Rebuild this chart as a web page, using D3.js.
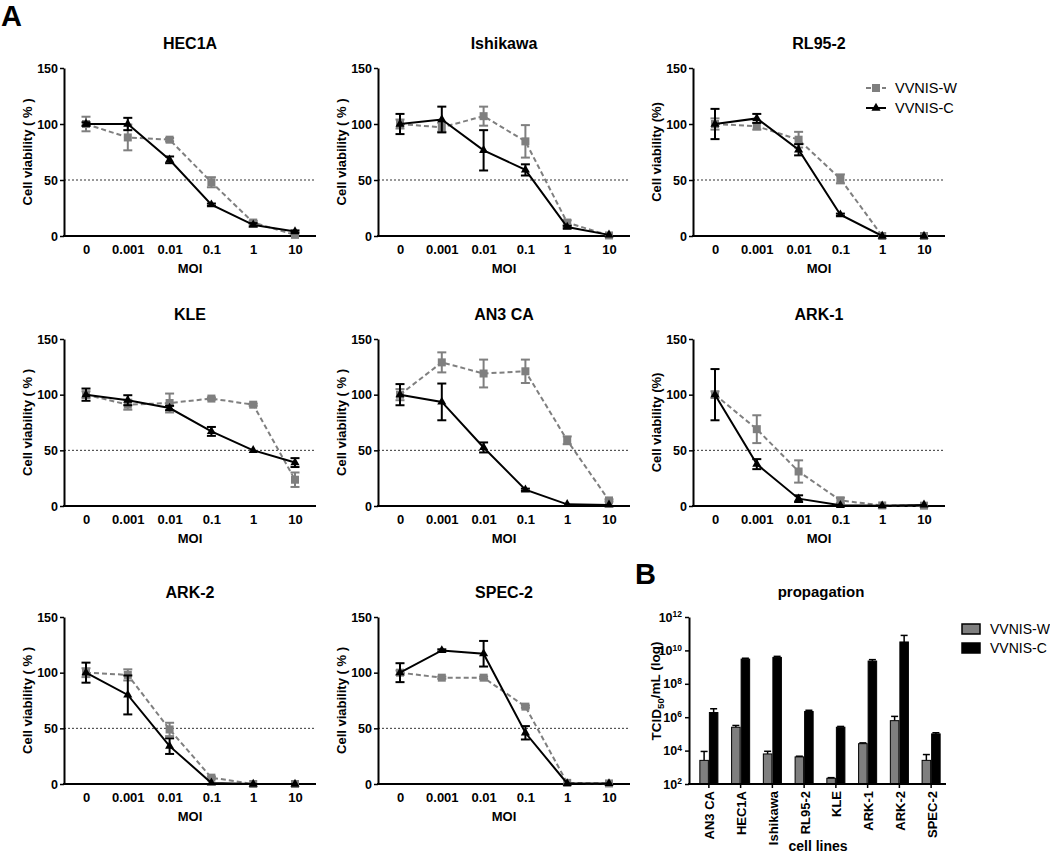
<!DOCTYPE html>
<html><head><meta charset="utf-8">
<script src="https://cdn.jsdelivr.net/npm/d3@7"></script>
<style>
body{margin:0;background:#fff}
svg{display:block}
text{font-family:"Liberation Sans",Arial,Helvetica,sans-serif}
</style>
</head><body>
<svg id="c" width="1050" height="859"></svg>
<script>
// ---------------- DATA ----------------
const moi = ["0", "0.001", "0.01", "0.1", "1", "10"];
const yTicks = [0, 50, 100, 150];
const seriesNames = ["VVNIS-W", "VVNIS-C"];

// Cell viability (%) per cell line: mean and error for each MOI
const HEC1A_W = [100, 88, 86, 48, 12, 1];      const HEC1A_W_ERR = [6.5, 11.5, 1.5, 4.5, 1.5, 0.5];
const HEC1A_C = [100, 100, 68, 28, 10, 4];     const HEC1A_C_ERR = [1.5, 5.5, 3, 1, 1.5, 1];
const ISHIKAWA_W = [100, 97, 107, 84.5, 12, 0.5]; const ISHIKAWA_W_ERR = [4, 4, 8.5, 14.5, 2, 0.5];
const ISHIKAWA_C = [100, 104, 76.5, 59, 8, 1];    const ISHIKAWA_C_ERR = [9, 11.5, 18, 5, 1, 0.5];
const RL952_W = [100, 98, 86, 51, 0, 0];       const RL952_W_ERR = [5, 3, 7, 4, 0, 0];
const RL952_C = [100, 105, 77, 19, 0, 0];      const RL952_C_ERR = [13.5, 4, 5, 1, 0, 0];
const KLE_W = [100, 91, 92.5, 96.5, 91, 23.6]; const KLE_W_ERR = [3, 4.5, 8.5, 1, 1, 6.5];
const KLE_C = [100, 95, 88, 67, 50, 39];       const KLE_C_ERR = [5.5, 4.5, 2, 4, 0.5, 4];
const AN3CA_W = [100, 129, 119, 121, 59, 5];   const AN3CA_W_ERR = [5, 9, 12.5, 10.5, 3.5, 1];
const AN3CA_C = [100, 93.5, 52.6, 14.6, 1.5, 1]; const AN3CA_C_ERR = [9.5, 16.5, 4.5, 1, 0.5, 0.5];
const ARK1_W = [100, 69, 31, 5, 0.5, 0.3];     const ARK1_W_ERR = [3, 12.5, 10, 2.5, 0.5, 0.3];
const ARK1_C = [100, 37.6, 6.6, 0.6, 0.3, 1];  const ARK1_C_ERR = [23, 4.5, 3, 0.5, 0.3, 0.5];
const ARK2_W = [100, 98, 49, 5.7, 0, 0];       const ARK2_W_ERR = [4, 5, 6, 1, 0, 0];
const ARK2_C = [100, 80, 34, 1, 0, 0];         const ARK2_C_ERR = [9, 17.5, 7, 0.5, 0, 0];
const SPEC2_W = [100, 95.5, 95.5, 69.5, 1, 0.5]; const SPEC2_W_ERR = [2, 1, 1, 1, 0.5, 0.3];
const SPEC2_C = [100, 120, 117, 46, 0.5, 0.5];   const SPEC2_C_ERR = [8.5, 1, 11.5, 6, 0.3, 0.3];

const panelTitles = ["HEC1A", "Ishikawa", "RL95-2", "KLE", "AN3 CA", "ARK-1", "ARK-2", "SPEC-2"];
const yLabels = ["Cell viability ( % )", "Cell viability ( % )", "Cell viability (%)",
                 "Cell viability ( % )", "Cell viability ( % )", "Cell viability (%)",
                 "Cell viability ( % )", "Cell viability ( % )"];

// Propagation (TCID50/mL)
const cellLines = ["AN3 CA", "HEC1A", "Ishikawa", "RL95-2", "KLE", "ARK-1", "ARK-2", "SPEC-2"];
const titerW = [2.6e3, 2.5e5, 6.3e3, 4.2e3, 2.2e2, 2.6e4, 6.2e5, 2.6e3];
const titerWErr = [6.3e3, 0.7e5, 2.8e3, 0.4e3, 20, 0.3e4, 5e5, 3.2e3];
const titerC = [1.9e6, 3.0e9, 3.8e9, 2.2e6, 2.5e5, 2.3e9, 3.2e10, 1.0e5];
const titerCErr = [1.3e6, 0.4e9, 0.6e9, 0.4e6, 0.3e5, 0.5e9, 4.7e10, 0.17e5];
const titerTicks = [1e2, 1e4, 1e6, 1e8, 1e10, 1e12];

// ---------------- BUILD ----------------
const panels = [
  [HEC1A_W, HEC1A_W_ERR, HEC1A_C, HEC1A_C_ERR],
  [ISHIKAWA_W, ISHIKAWA_W_ERR, ISHIKAWA_C, ISHIKAWA_C_ERR],
  [RL952_W, RL952_W_ERR, RL952_C, RL952_C_ERR],
  [KLE_W, KLE_W_ERR, KLE_C, KLE_C_ERR],
  [AN3CA_W, AN3CA_W_ERR, AN3CA_C, AN3CA_C_ERR],
  [ARK1_W, ARK1_W_ERR, ARK1_C, ARK1_C_ERR],
  [ARK2_W, ARK2_W_ERR, ARK2_C, ARK2_C_ERR],
  [SPEC2_W, SPEC2_W_ERR, SPEC2_C, SPEC2_C_ERR]
].map((a, i) => ({
  title: panelTitles[i], ylab: yLabels[i],
  W: moi.map((m, j) => ({m, v: a[0][j], e: a[1][j]})),
  C: moi.map((m, j) => ({m, v: a[2][j], e: a[3][j]}))
}));

const svg = d3.select("#c");
const GRAY = "#7f7f7f";
const FF = "Liberation Sans, Arial, sans-serif";
const colX = [64, 378, 693];
const rowY = [[68, 236], [339, 506], [617, 784]];
const AXW = 252;

svg.append("text").attr("x", 1).attr("y", 26).attr("font-size", 29).attr("font-weight", "bold").text("A");
svg.append("text").attr("x", 635).attr("y", 584).attr("font-size", 29).attr("font-weight", "bold").text("B");

function errBars(g, data, x, y, color) {
  const eb = g.append("g").attr("stroke", color).attr("stroke-width", 2).attr("fill", "none");
  data.filter(d => d.e > 0.6).forEach(d => {
    const cx = x(d.m), y1 = y(d.v + d.e), y2 = y(d.v - d.e);
    eb.append("line").attr("x1", cx).attr("x2", cx).attr("y1", y1).attr("y2", y2);
    eb.append("line").attr("x1", cx - 4.5).attr("x2", cx + 4.5).attr("y1", y1).attr("y2", y1);
    eb.append("line").attr("x1", cx - 4.5).attr("x2", cx + 4.5).attr("y1", y2).attr("y2", y2);
  });
}

panels.forEach((p, i) => {
  const col = i % 3, row = Math.floor(i / 3);
  const x0 = colX[col], yt = rowY[row][0], yb = rowY[row][1];
  const x = d3.scalePoint().domain(moi).range([x0 + 22, x0 + 231]);
  const y = d3.scaleLinear().domain([0, 150]).range([yb, yt]);
  const g = svg.append("g");

  // 50% reference line
  g.append("line").attr("x1", x0).attr("x2", x0 + AXW).attr("y1", y(50)).attr("y2", y(50))
    .attr("stroke", "#333").attr("stroke-width", 1).attr("stroke-dasharray", "2,2");

  // y axis
  const ya = g.append("g").attr("transform", `translate(${x0},0)`)
    .call(d3.axisLeft(y).tickValues(yTicks).tickSize(4).tickSizeOuter(0).tickPadding(2));
  ya.select(".domain").attr("stroke-width", 2);
  ya.selectAll(".tick line").attr("stroke-width", 1.5);
  ya.selectAll(".tick text").attr("font-size", 12.5).attr("font-weight", "bold").attr("fill", "#000")
    .attr("font-family", FF);

  // x axis
  g.append("line").attr("x1", x0 - 1).attr("x2", x0 + AXW).attr("y1", yb).attr("y2", yb)
    .attr("stroke", "#000").attr("stroke-width", 2);
  const xa = g.append("g").attr("transform", `translate(0,${yb})`)
    .call(d3.axisBottom(x).tickSize(0).tickPadding(9));
  xa.select(".domain").remove();
  xa.selectAll(".tick text").attr("font-size", 13).attr("font-weight", "bold").attr("fill", "#000")
    .attr("font-family", FF);

  // lines
  const line = d3.line().x(d => x(d.m)).y(d => y(d.v));
  g.append("path").datum(p.W).attr("d", line).attr("fill", "none").attr("stroke", GRAY)
    .attr("stroke-width", 2).attr("stroke-dasharray", "5,3");
  errBars(g, p.W, x, y, GRAY);
  g.append("g").selectAll("rect").data(p.W).join("rect")
    .attr("x", d => x(d.m) - 4).attr("y", d => y(d.v) - 4).attr("width", 8).attr("height", 8).attr("fill", GRAY);

  g.append("path").datum(p.C).attr("d", line).attr("fill", "none").attr("stroke", "#000").attr("stroke-width", 2);
  errBars(g, p.C, x, y, "#000");
  g.append("g").selectAll("path").data(p.C).join("path")
    .attr("d", d3.symbol(d3.symbolTriangle, 36))
    .attr("transform", d => `translate(${x(d.m)},${y(d.v)})`).attr("fill", "#000");

  // labels
  g.append("text").attr("x", x0 + 126).attr("y", yt - 19).attr("text-anchor", "middle")
    .attr("font-size", 16).attr("font-weight", "bold").text(p.title);
  g.append("text").attr("x", x0 + 126).attr("y", yb + 37).attr("text-anchor", "middle")
    .attr("font-size", 13).attr("font-weight", "bold").text("MOI");
  g.append("text").attr("transform", `translate(${x0 - 37},${(yt + yb) / 2}) rotate(-90)`)
    .attr("text-anchor", "middle").attr("dy", "0.35em")
    .attr("font-size", 13).attr("font-weight", "bold").text(p.ylab);

  // legend in RL95-2 panel
  if (i === 2) {
    const lg = g.append("g");
    const lx = 866, lys = [88, 108];
    lg.append("line").attr("x1", lx).attr("x2", lx + 20).attr("y1", lys[0]).attr("y2", lys[0])
      .attr("stroke", GRAY).attr("stroke-width", 2).attr("stroke-dasharray", "5,3");
    lg.append("rect").attr("x", lx + 6).attr("y", lys[0] - 4).attr("width", 8).attr("height", 8).attr("fill", GRAY);
    lg.append("line").attr("x1", lx).attr("x2", lx + 20).attr("y1", lys[1]).attr("y2", lys[1])
      .attr("stroke", "#000").attr("stroke-width", 2);
    lg.append("path").attr("d", d3.symbol(d3.symbolTriangle, 36)).attr("transform", `translate(${lx + 10},${lys[1]})`);
    seriesNames.forEach((s, k) => lg.append("text").attr("x", lx + 29).attr("y", lys[k]).attr("dy", "0.35em")
      .attr("font-size", 14.5).text(s));
  }
});

// ---------------- PANEL B ----------------
const bx = d3.scaleBand().domain(cellLines).range([693, 947]).paddingInner(0.4).paddingOuter(0.2);
const bs = d3.scaleBand().domain(seriesNames).range([0, bx.bandwidth()]);
const by = d3.scaleLog().domain([1e2, 1e12]).range([784, 617]);
const gB = svg.append("g");

const barData = cellLines.map((c, i) => [
  {c, s: seriesNames[0], v: titerW[i], e: titerWErr[i], fill: GRAY},
  {c, s: seriesNames[1], v: titerC[i], e: titerCErr[i], fill: "#000"}
]).flat();

// error bars (upper only)
barData.forEach(d => {
  const cx = bx(d.c) + bs(d.s) + bs.bandwidth() / 2;
  const yTop = by(d.v + d.e);
  gB.append("line").attr("x1", cx).attr("x2", cx).attr("y1", by(d.v)).attr("y2", yTop).attr("stroke", "#000").attr("stroke-width", 1.5);
  gB.append("line").attr("x1", cx - 3.5).attr("x2", cx + 3.5).attr("y1", yTop).attr("y2", yTop).attr("stroke", "#000").attr("stroke-width", 1.5);
});
gB.append("g").selectAll("rect").data(barData).join("rect")
  .attr("x", d => bx(d.c) + bs(d.s) + 0.5).attr("width", bs.bandwidth() - 1)
  .attr("y", d => by(d.v)).attr("height", d => by(1e2) - by(d.v))
  .attr("fill", d => d.fill).attr("stroke", "#000").attr("stroke-width", 1);

// y axis
const bya = gB.append("g").attr("transform", "translate(689,0)")
  .call(d3.axisLeft(by).tickValues(titerTicks).tickSize(4).tickSizeOuter(0).tickPadding(3).tickFormat(() => ""));
bya.select(".domain").attr("stroke-width", 2);
bya.selectAll(".tick line").attr("stroke-width", 1.5);
bya.selectAll(".tick text").attr("font-weight", "bold").attr("fill", "#000").attr("font-size", 12.5)
  .attr("font-family", FF)
  .each(function (d) {
    const t = d3.select(this);
    t.append("tspan").text("10");
    t.append("tspan").attr("font-size", 8.5).attr("dy", "-0.5em").text(String(Math.round(Math.log10(d))));
  });

// x axis
gB.append("line").attr("x1", 688).attr("x2", 946).attr("y1", 784).attr("y2", 784).attr("stroke", "#000").attr("stroke-width", 2);
const bxa = gB.append("g").attr("transform", "translate(0,784)")
  .call(d3.axisBottom(bx).tickSize(4).tickPadding(0));
bxa.select(".domain").remove();
bxa.selectAll(".tick line").attr("stroke-width", 1.5);
bxa.selectAll(".tick text").attr("font-size", 13).attr("font-weight", "bold").attr("fill", "#000")
  .attr("font-family", FF)
  .attr("text-anchor", "end").attr("transform", "translate(1,7) rotate(-90)").attr("x", 0).attr("y", 0).attr("dy", "0.35em");

gB.append("text").attr("x", 818).attr("y", 851).attr("text-anchor", "middle").attr("font-size", 14).attr("font-weight", "bold").text("cell lines");
gB.append("text").attr("x", 821).attr("y", 597).attr("text-anchor", "middle").attr("font-size", 15).attr("font-weight", "bold").text("propagation");
const yl = gB.append("text").attr("transform", "translate(656,691) rotate(-90)").attr("text-anchor", "middle")
  .attr("dy", "0.35em").attr("font-size", 13.5).attr("font-weight", "bold");
yl.append("tspan").text("TCID");
yl.append("tspan").attr("font-size", 9.5).attr("dy", "0.3em").text("50");
yl.append("tspan").attr("dy", "-0.3em").text("/mL (log)");

// legend B
seriesNames.forEach((s, k) => {
  const ly = 629 + k * 19;
  gB.append("rect").attr("x", 962).attr("y", ly - 5).attr("width", 18).attr("height", 10)
    .attr("fill", k === 0 ? GRAY : "#000").attr("stroke", "#000").attr("stroke-width", 1.5);
  gB.append("text").attr("x", 990).attr("y", ly).attr("dy", "0.35em").attr("font-size", 14).text(s);
});
</script>
</body></html>
